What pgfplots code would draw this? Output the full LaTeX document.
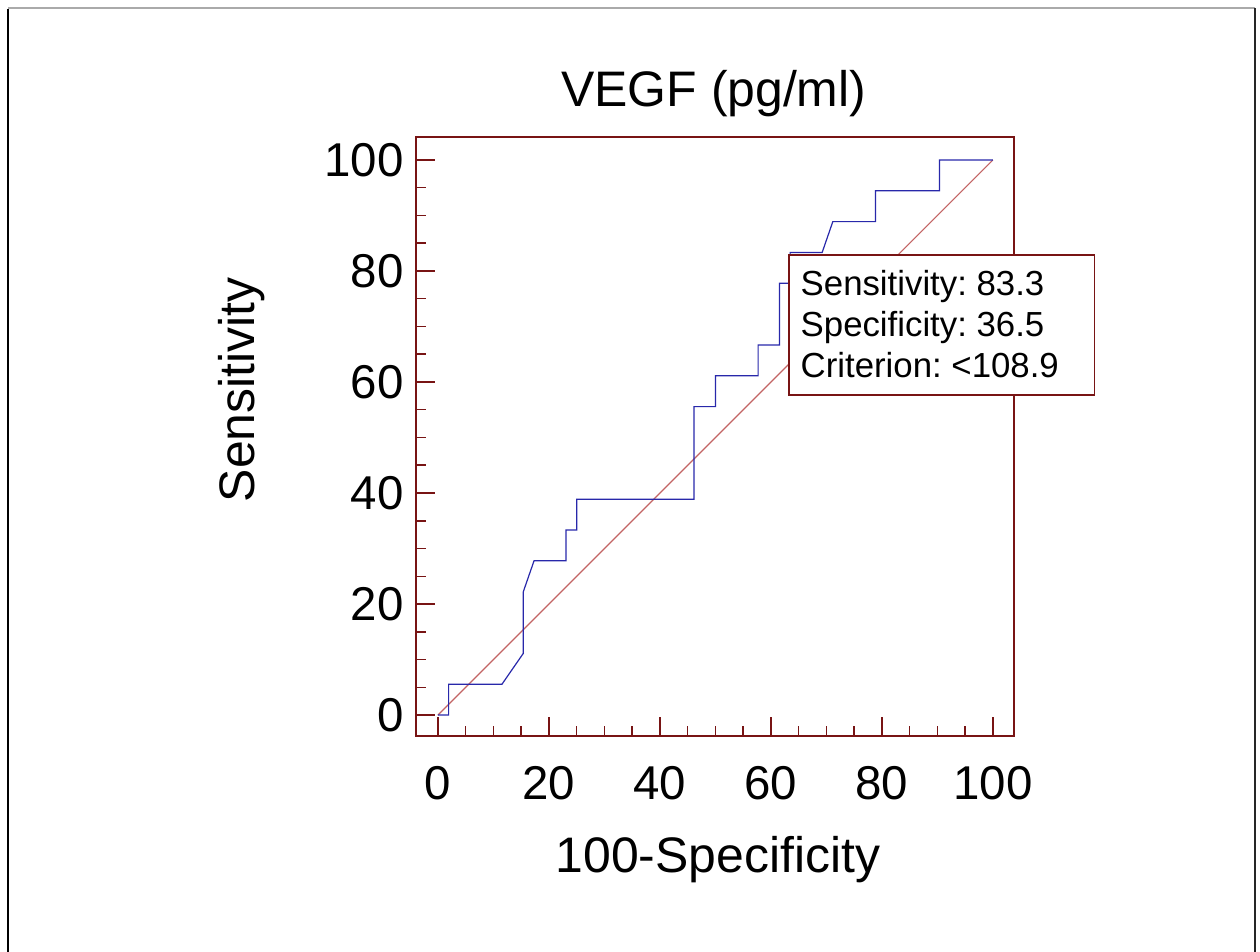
\documentclass[border=0pt]{standalone}
\usepackage{fontspec}
\setmainfont{Liberation Sans}
\usepackage{pgfplots}
\pgfplotsset{compat=1.18}
\definecolor{axred}{RGB}{120,20,20}
\definecolor{rocblue}{RGB}{40,40,170}
\definecolor{diagred}{RGB}{195,100,100}
\definecolor{framegray}{RGB}{170,170,170}
\frenchspacing
\begin{document}
\begin{tikzpicture}[x=1cm,y=1cm]
\path[use as bounding box] (0,0) rectangle (12.6,9.52);
\draw[framegray, line width=0.15mm] (0.08,9.44) -- (12.55,9.44);
\draw[black, line width=0.2mm] (0.08,9.43) -- (0.08,0);
\draw[black!85, line width=0.2mm] (12.55,9.44) -- (12.55,0);
\begin{axis}[
  at={(4.16cm,2.16cm)}, anchor=south west,
  scale only axis, width=5.98cm, height=5.99cm,
  xmin=-3.96, xmax=103.8, ymin=-3.78, ymax=104.14,
  xtick={0,20,40,60,80,100}, ytick={0,20,40,60,80,100},
  minor tick num=3,
  xtick pos=bottom, ytick pos=left, tick align=inside,
  major tick length=1.9mm, minor tick length=1.0mm,
  axis line style={axred, line width=0.2mm},
  every tick/.style={axred, line width=0.18mm},
  every minor tick/.style={axred, line width=0.15mm},
  /pgf/number format/assume math mode=true,
  ticklabel style={font=\fontsize{13.5}{16}\selectfont},
  xticklabel style={yshift=-1.8mm},
  title={VEGF (pg/ml)},
  xlabel={100-Specificity},
  ylabel={Sensitivity},
  title style={at={(rel axis cs:0.498,1.072)}, anchor=center, yshift=-6pt, font=\fontsize{14.2}{17}\selectfont},
  xlabel style={at={(rel axis cs:0.505,-0.207)}, anchor=center, font=\fontsize{14.2}{17}\selectfont},
  ylabel style={at={(rel axis cs:-0.291,0.578)}, anchor=center, rotate=0, font=\fontsize{14.2}{17}\selectfont},
]
\addplot[diagred, line width=0.12mm] coordinates {(0,0) (100,100)};
\addplot[rocblue, line width=0.12mm] coordinates {
(0,0) (1.92,0) (1.92,5.56) (11.54,5.56) (15.38,11.11) (15.38,22.22)
(17.31,27.78) (23.08,27.78) (23.08,33.33) (25.0,33.33) (25.0,38.89)
(46.15,38.89) (46.15,55.56) (50.0,55.56) (50.0,61.11) (57.69,61.11)
(57.69,66.67) (61.54,66.67) (61.54,77.78) (63.46,77.78) (63.46,83.33)
(69.23,83.33) (71.15,88.89) (78.85,88.89) (78.85,94.44) (90.38,94.44)
(90.38,100) (100,100)};
\end{axis}
\draw[axred, line width=0.18mm, fill=white] (7.89,5.57) rectangle (10.945,6.973);
\node[anchor=base west, inner sep=0pt, font=\fontsize{9.9}{11}\selectfont] at (8.00,6.56) {Sensitivity: 83.3};
\node[anchor=base west, inner sep=0pt, font=\fontsize{9.9}{11}\selectfont] at (8.00,6.15) {Specificity: 36.5};
\node[anchor=base west, inner sep=0pt, font=\fontsize{9.9}{11}\selectfont] at (8.00,5.74) {Criterion: <108.9};
\end{tikzpicture}
\end{document}
